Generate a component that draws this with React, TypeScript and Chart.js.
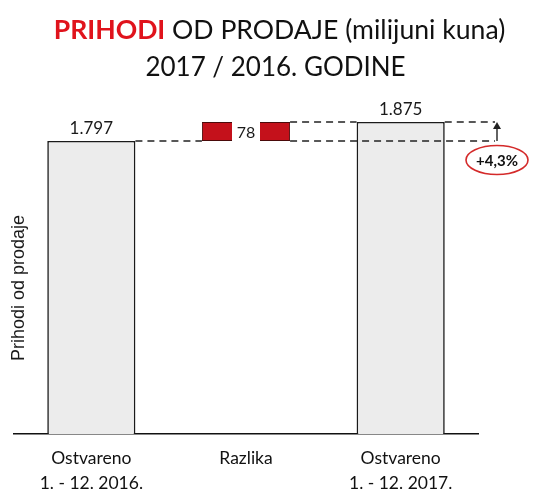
import React, { useEffect, useRef } from "react";
import { Chart, registerables } from "chart.js";

Chart.register(...registerables);

// ---- data ----
const categories: string[][] = [
  ["Ostvareno", "1. - 12. 2016."],
  ["Razlika"],
  ["Ostvareno", "1. - 12. 2017."],
];
const yearTotals: number[] = [1797, 1875];
const difference: number[] = [78];
const changeLabels: string[] = ["+4,3%"];
const axisTitle = "Prihodi od prodaje";
const titleRed = "PRIHODI";
const titleRest = " OD PRODAJE (milijuni kuna)";
const titleLine2 = "2017 / 2016. GODINE";

const fmt = (v: number) => String(v).replace(/\B(?=(\d{3})+(?!\d))/g, ".");

const Y_MIN = 594;
const Y_MAX = 1965;
const FONT = "Lato, 'Open Sans', sans-serif";

const overlayPlugin = {
  id: "waterfallOverlay",
  afterDatasetsDraw(chart: any) {
    const ctx = chart.ctx;
    const y = chart.scales.y;
    const bars = chart.getDatasetMeta(0).data;
    const area = chart.chartArea;
    const b0 = bars[0], b1 = bars[1], b2 = bars[2];
    const yStart = y.getPixelForValue(yearTotals[0]);
    const yEnd = y.getPixelForValue(yearTotals[0] + difference[0]);
    const extX = area.right + 17;

    ctx.save();
    // dashed connectors
    ctx.strokeStyle = "#222";
    ctx.lineWidth = 1.4;
    ctx.setLineDash([7, 5]);
    ctx.beginPath();
    ctx.moveTo(b0.x + b0.width / 2, yStart);
    ctx.lineTo(b1.x - b1.width / 2, yStart);
    ctx.moveTo(b1.x + b1.width / 2, yEnd);
    ctx.lineTo(b2.x - b2.width / 2, yEnd);
    ctx.moveTo(b2.x + b2.width / 2, yEnd);
    ctx.lineTo(extX, yEnd);
    ctx.moveTo(b1.x + b1.width / 2, yStart);
    ctx.lineTo(extX, yStart);
    ctx.stroke();
    ctx.setLineDash([]);

    // arrow
    const ax = extX + 2;
    ctx.lineWidth = 1.4;
    ctx.beginPath();
    ctx.moveTo(ax, yStart);
    ctx.lineTo(ax, yEnd + 2);
    ctx.stroke();
    ctx.fillStyle = "#222";
    ctx.beginPath();
    ctx.moveTo(ax, yEnd);
    ctx.lineTo(ax - 4, yEnd + 7);
    ctx.lineTo(ax + 4, yEnd + 7);
    ctx.closePath();
    ctx.fill();

    // gap with "78" in red bar
    const midY = (b1.y + b1.base) / 2;
    ctx.fillStyle = "#fff";
    ctx.fillRect(b1.x - 14, b1.y - 2, 28, b1.base - b1.y + 4);
    ctx.fillStyle = "#1a1a1a";
    ctx.font = `16px ${FONT}`;
    ctx.textAlign = "center";
    ctx.textBaseline = "middle";
    ctx.fillText(String(difference[0]), b1.x, midY + 1);

    // value labels above totals
    ctx.font = `17px ${FONT}`;
    ctx.textBaseline = "alphabetic";
    ctx.fillText(fmt(yearTotals[0]), b0.x, b0.y - 7);
    ctx.fillText(fmt(yearTotals[1]), b2.x, b2.y - 7);

    // percent ellipse
    const ex = ax, ey = yStart + 19;
    ctx.strokeStyle = "#d42a2a";
    ctx.lineWidth = 1.6;
    ctx.beginPath();
    ctx.ellipse(ex, ey, 31, 14.5, 0, 0, Math.PI * 2);
    ctx.stroke();
    ctx.fillStyle = "#111";
    ctx.font = `bold 15px ${FONT}`;
    ctx.textBaseline = "middle";
    ctx.fillText(changeLabels[0], ex, ey + 1);
    ctx.restore();
  },
  afterDraw(chart: any) {
    const ctx = chart.ctx;
    const W = chart.width;
    ctx.save();
    // title
    ctx.textBaseline = "alphabetic";
    ctx.textAlign = "left";
    const fs = 26.6;
    ctx.font = `bold ${fs}px ${FONT}`;
    const wRed = ctx.measureText(titleRed).width;
    ctx.font = `${fs}px ${FONT}`;
    const wRest = ctx.measureText(titleRest).width;
    const x0 = (W - wRed - wRest) / 2 + 12;
    ctx.font = `bold ${fs}px ${FONT}`;
    ctx.fillStyle = "#e0131c";
    ctx.fillText(titleRed, x0, 39);
    ctx.font = `${fs}px ${FONT}`;
    ctx.fillStyle = "#111";
    ctx.fillText(titleRest, x0 + wRed, 39);
    ctx.textAlign = "center";
    ctx.font = `26px ${FONT}`;
    ctx.fillText(titleLine2, W / 2 + 8, 76);

    // y axis title
    ctx.translate(19, 288);
    ctx.rotate(-Math.PI / 2);
    ctx.font = "18px 'Liberation Sans', Arial, sans-serif";
    ctx.fillStyle = "#1a1a1a";
    ctx.textAlign = "center";
    ctx.textBaseline = "middle";
    ctx.fillText(axisTitle, 0, 0);
    ctx.restore();
  },
};

export default function App() {
  const ref = useRef<HTMLCanvasElement | null>(null);
  useEffect(() => {
    if (!ref.current) return;
    const chart = new Chart(ref.current, {
      type: "bar",
      data: {
        labels: categories,
        datasets: [
          {
            data: [
              yearTotals[0],
              [yearTotals[0], yearTotals[0] + difference[0]],
              yearTotals[1],
            ] as any,
            base: Y_MIN,
            backgroundColor: ["#ececec", "#c4111b", "#ececec"],
            borderColor: ["#1a1a1a", "#4a0a0a", "#1a1a1a"],
            borderWidth: [1.6, 1, 1.6] as any,
            borderSkipped: ((c: any) => (c.dataIndex === 1 ? false : "start")) as any,
            barPercentage: 0.57,
            categoryPercentage: 1,
          } as any,
        ],
      },
      options: {
        animation: false,
        responsive: false,
        devicePixelRatio: 1,
        layout: { padding: { top: 100, left: 14, right: 57, bottom: 0 } },
        plugins: { legend: { display: false }, tooltip: { enabled: false }, title: { display: false } },
        scales: {
          x: {
            grid: { display: false, drawTicks: false },
            border: { display: true, color: "#111", width: 1.6 },
            ticks: { color: "#111", font: { family: FONT, size: 17.5, lineHeight: 1.48 }, padding: 11, maxRotation: 0 },
            afterFit: (s: any) => { s.height = 59; },
          },
          y: { display: false, min: Y_MIN, max: Y_MAX },
        },
      },
      plugins: [overlayPlugin],
    });
    return () => chart.destroy();
  }, []);
  return (
    <div style={{ position: "absolute", left: 0, top: 0, width: 535, height: 493, background: "#fff" }}>
      <canvas ref={ref} width={535} height={493} style={{ width: 535, height: 493, display: "block" }} />
    </div>
  );
}
